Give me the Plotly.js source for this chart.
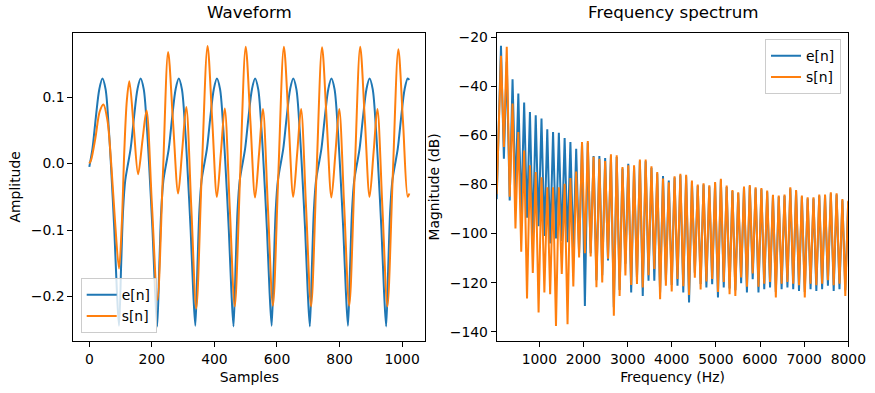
<!DOCTYPE html>
<html>
<head>
<meta charset="utf-8">
<script src="https://cdn.plot.ly/plotly-3.0.1.min.js"></script>
<style>html,body{margin:0;padding:0;background:#fff;}#chart{width:875px;height:393px;}</style>
</head>
<body>
<div id="chart"></div>
<script>
// ---- Waveform (left panel) ----
const eSamples = [
  0, 10, 21, 32, 42, 52, 62, 69, 80, 88, 95, 102, 108, 115,
  122, 132, 143, 154, 164, 174, 184, 191, 202, 210, 217, 224, 230, 237,
  244, 254, 265, 276, 286, 296, 306, 313, 324, 332, 339, 346, 352, 359,
  366, 376, 387, 398, 408, 418, 428, 435, 446, 454, 461, 468, 474, 481,
  488, 498, 509, 520, 530, 540, 550, 557, 568, 576, 583, 590, 596, 603,
  610, 620, 631, 642, 652, 662, 672, 679, 690, 698, 705, 712, 718, 725,
  732, 742, 753, 764, 774, 784, 794, 801, 812, 820, 827, 834, 840, 847,
  854, 864, 875, 886, 896, 906, 916, 923, 934, 942, 949, 956, 962, 969,
  976, 986, 997, 1008, 1018, 1023
];
const eValues = [
  -0.005, 0.022, 0.070, 0.112, 0.128, 0.112, 0.055, 0.000, -0.100, -0.190, -0.244, -0.150, -0.070, -0.025,
  -0.005, 0.022, 0.070, 0.112, 0.128, 0.112, 0.055, 0.000, -0.100, -0.190, -0.245, -0.150, -0.070, -0.025,
  -0.005, 0.022, 0.070, 0.112, 0.128, 0.112, 0.055, 0.000, -0.100, -0.190, -0.244, -0.150, -0.070, -0.025,
  -0.005, 0.022, 0.070, 0.112, 0.128, 0.112, 0.055, 0.000, -0.100, -0.190, -0.245, -0.150, -0.070, -0.025,
  -0.005, 0.022, 0.070, 0.112, 0.128, 0.112, 0.055, 0.000, -0.100, -0.190, -0.244, -0.150, -0.070, -0.025,
  -0.005, 0.022, 0.070, 0.112, 0.128, 0.112, 0.055, 0.000, -0.100, -0.190, -0.245, -0.150, -0.070, -0.025,
  -0.005, 0.022, 0.070, 0.112, 0.128, 0.112, 0.055, 0.000, -0.100, -0.190, -0.244, -0.150, -0.070, -0.025,
  -0.005, 0.022, 0.070, 0.112, 0.128, 0.112, 0.055, 0.000, -0.100, -0.190, -0.245, -0.150, -0.070, -0.025,
  -0.005, 0.022, 0.070, 0.112, 0.128, 0.126
];
const sSamples = [
  0, 6, 20, 33, 45, 58, 70, 82, 95, 104, 112, 120, 128, 142, 156, 170, 183, 200, 218, 235,
  252, 268, 284, 297, 310, 326, 342, 359,
  378, 393, 408, 421, 433, 449, 465, 482,
  500, 515, 530, 543, 555, 571, 587, 604,
  622, 637, 652, 665, 677, 693, 709, 726,
  744, 759, 774, 787, 799, 815, 831, 848,
  866, 881, 896, 909, 921, 937, 953, 970,
  988, 1003, 1018, 1023
];
const sValues = [
  0.000, 0.006, 0.040, 0.078, 0.089, 0.065, 0.000, -0.085, -0.158, -0.090, 0.020, 0.095, 0.124, 0.055, -0.016, 0.035, 0.080, -0.060, -0.205, -0.020,
  0.168, 0.060, -0.045, 0.020, 0.085, -0.065, -0.218, -0.020,
  0.177, 0.065, -0.050, 0.018, 0.083, -0.066, -0.215, -0.020,
  0.176, 0.064, -0.051, 0.017, 0.082, -0.066, -0.214, -0.020,
  0.176, 0.065, -0.050, 0.018, 0.082, -0.066, -0.215, -0.020,
  0.175, 0.064, -0.051, 0.017, 0.082, -0.066, -0.214, -0.020,
  0.176, 0.065, -0.050, 0.018, 0.082, -0.066, -0.215, -0.020,
  0.172, 0.062, -0.050, -0.045
];

// ---- Frequency spectrum (right panel) ----
const specFreq = [
  34, 131, 197, 262, 328, 393, 459, 524, 590, 656, 721, 787, 852, 918, 983, 1049, 1114, 1180, 1245, 1311,
  1377, 1442, 1508, 1573, 1639, 1704, 1770, 1835, 1901, 1967, 2032, 2098, 2163, 2229, 2294, 2360, 2425, 2491,
  2556, 2622, 2688, 2753, 2819, 2884, 2950, 3015, 3081, 3146, 3212, 3278, 3343, 3409, 3474, 3540, 3605, 3671,
  3736, 3802, 3867, 3933, 3999, 4064, 4130, 4195, 4261, 4326, 4392, 4457, 4523, 4589, 4654, 4720, 4785, 4851,
  4916, 4982, 5047, 5113, 5178, 5244, 5310, 5375, 5441, 5506, 5572, 5637, 5703, 5768, 5834, 5900, 5965, 6031,
  6096, 6162, 6227, 6293, 6358, 6424, 6489, 6555, 6621, 6686, 6752, 6817, 6883, 6948, 7014, 7079, 7145, 7211,
  7276, 7342, 7407, 7473, 7538, 7604, 7669, 7735, 7800, 7866, 7932, 7997
];
const eSpecDb = [
  -86, -23.4, -69.5, -30, -86.5, -37.1, -84, -42.9, -92, -46.6, -93.5, -50.4, -101, -51.8, -97, -53.1, -101, -57.5, -104, -58.6,
  -102, -58.9, -103, -61, -103.5, -62.7, -108, -65.4, -108, -63.5, -129.5, -63, -108, -68.4, -119, -68.4, -117, -69.2,
  -111, -68.5, -130, -68.8, -123, -73.5, -112.3, -71.5, -124, -72.8, -118, -70.5, -125.4, -70.5, -119.2, -73.2, -119.2, -75.5,
  -124, -76.5, -119, -78.4, -121, -77.2, -121.3, -76.2, -124, -76.6, -128.1, -79, -116, -80.5, -120.5, -80, -122, -80.8,
  -120.6, -79.5, -126.1, -78.3, -122.0, -81, -122.4, -82.7, -123.1, -83.6, -120.2, -81, -124.0, -80.7, -118.6, -81.6, -124.0, -81.9,
  -122.7, -83, -122.0, -84.7, -123.8, -85, -122.7, -84.6, -122.0, -81.6, -122.7, -82.7, -123.4, -85, -123.8, -85.7, -122.7, -85.7,
  -123.4, -84.6, -122.7, -84.6, -121.3, -83.7, -123.4, -84.1, -122.7, -86.4, -123.1, -87.1
];
const sSpecDb = [
  -84, -27.5, -64.7, -23.8, -85, -47, -97.9, -58.6, -107.4, -66.1, -126.5, -72.2, -116.1, -74.9, -132.2, -77.0, -124, -81.1, -124.7, -81.1,
  -137.7, -81.1, -116.5, -79.7, -137, -77.4, -121.6, -74.7, -109.7, -62.7, -108, -62.3, -109.3, -68.7, -121.9, -69.5, -119.9, -70.4,
  -110.3, -67.7, -133.5, -68.1, -125.4, -72.9, -117.1, -72.2, -121, -72.2, -120.6, -69.8, -122, -69.8, -117, -72.6, -114.4, -74.9,
  -126.8, -77.6, -121.3, -79.1, -123.6, -76.6, -118.5, -75.6, -121.5, -76, -125, -78.4, -118, -80, -122.8, -79.5, -119.5, -80.3,
  -118.5, -79, -123.8, -77.7, -119.7, -80.4, -124.7, -82.2, -125.4, -83.2, -117.9, -80.8, -121.7, -80.2, -116.3, -81.1, -121.7, -81.4,
  -120.4, -82.5, -119.7, -84.2, -126.1, -84.5, -120.4, -84.1, -119.7, -81.1, -120.4, -82.2, -121.1, -84.5, -126.1, -85.2, -120.4, -85.2,
  -121.1, -84.1, -120.4, -84.1, -119.0, -83.2, -121.1, -83.6, -120.4, -85.9, -125.4, -86.6
];

const seriesNames = ['e[n]', 's[n]'];
const waveTicks = [0, 200, 400, 600, 800, 1000];
const ampTicks = [-0.2, -0.1, 0.0, 0.1];
const freqTicks = [1000, 2000, 3000, 4000, 5000, 6000, 7000, 8000];
const dbTicks = [-140, -120, -100, -80, -60, -40, -20];

const BLUE = '#1f77b4', ORANGE = '#ff7f0e';
const FONT = 'DejaVu Sans, sans-serif';

const traces = [
  {x: eSamples, y: eValues, name: seriesNames[0], type: 'scatter', mode: 'lines',
   line: {color: BLUE, width: 2, shape: 'spline', smoothing: 0.9}, xaxis: 'x', yaxis: 'y', legend: 'legend'},
  {x: sSamples, y: sValues, name: seriesNames[1], type: 'scatter', mode: 'lines',
   line: {color: ORANGE, width: 2, shape: 'spline', smoothing: 0.9}, xaxis: 'x', yaxis: 'y', legend: 'legend'},
  {x: specFreq, y: eSpecDb, name: seriesNames[0], type: 'scatter', mode: 'lines',
   line: {color: BLUE, width: 2}, xaxis: 'x2', yaxis: 'y2', legend: 'legend2'},
  {x: specFreq, y: sSpecDb, name: seriesNames[1], type: 'scatter', mode: 'lines',
   line: {color: ORANGE, width: 2}, xaxis: 'x2', yaxis: 'y2', legend: 'legend2'}
];

const axisBase = {
  showline: true, mirror: true, linecolor: '#000', linewidth: 1,
  ticks: 'outside', ticklen: 5, tickwidth: 1, tickcolor: '#000',
  showgrid: false, zeroline: false, automargin: false,
  tickfont: {family: FONT, size: 13.9, color: '#000'}
};
const titleFont = {family: FONT, size: 13.9, color: '#000'};
const yDomain = [1 - 341 / 393, 1 - 32.7 / 393];

const layout = {
  width: 875, height: 393,
  margin: {l: 0, r: 0, t: 0, b: 0},
  paper_bgcolor: '#fff', plot_bgcolor: '#fff',
  font: {family: FONT, color: '#000'},
  showlegend: true,
  xaxis: Object.assign({}, axisBase, {
    domain: [73.3 / 875, 425.3 / 875], anchor: 'y', range: [-51.15, 1074.15],
    tickmode: 'array', tickvals: waveTicks,
    title: {text: 'Samples', font: titleFont, standoff: 6}
  }),
  yaxis: Object.assign({}, axisBase, {
    domain: yDomain, anchor: 'x', range: [-0.267, 0.197],
    tickmode: 'array', tickvals: ampTicks, tickformat: '.1f',
    title: {text: 'Amplitude', font: titleFont, standoff: 6}
  }),
  xaxis2: Object.assign({}, axisBase, {
    domain: [496.7 / 875, 848.3 / 875], anchor: 'y2', range: [34, 8000],
    tickmode: 'array', tickvals: freqTicks,
    title: {text: 'Frequency (Hz)', font: titleFont, standoff: 6}
  }),
  yaxis2: Object.assign({}, axisBase, {
    domain: yDomain, anchor: 'x2', range: [-143.8, -18.1],
    tickmode: 'array', tickvals: dbTicks,
    title: {text: 'Magnitude (dB)', font: titleFont, standoff: 6}
  }),
  legend: {
    x: 80.7 / 875, y: 1 - 333.3 / 393, xanchor: 'left', yanchor: 'bottom',
    bgcolor: 'rgba(255,255,255,0.8)', bordercolor: '#cccccc', borderwidth: 1,
    font: {family: FONT, size: 13.9, color: '#000'}, tracegroupgap: 0
  },
  legend2: {
    x: 841 / 875, y: 1 - 39.3 / 393, xanchor: 'right', yanchor: 'top',
    bgcolor: 'rgba(255,255,255,0.8)', bordercolor: '#cccccc', borderwidth: 1,
    font: {family: FONT, size: 13.9, color: '#000'}, tracegroupgap: 0
  },
  annotations: [
    {text: 'Waveform', xref: 'paper', yref: 'paper', x: (73.3 + 425.3) / 2 / 875, y: 1 - 24.5 / 393,
     xanchor: 'center', yanchor: 'bottom', showarrow: false, font: {family: FONT, size: 16.7, color: '#000'}},
    {text: 'Frequency spectrum', xref: 'paper', yref: 'paper', x: (496.7 + 848.3) / 2 / 875, y: 1 - 24.5 / 393,
     xanchor: 'center', yanchor: 'bottom', showarrow: false, font: {family: FONT, size: 16.7, color: '#000'}}
  ]
};

Plotly.newPlot('chart', traces, layout, {staticPlot: true, displayModeBar: false});
</script>
</body>
</html>
